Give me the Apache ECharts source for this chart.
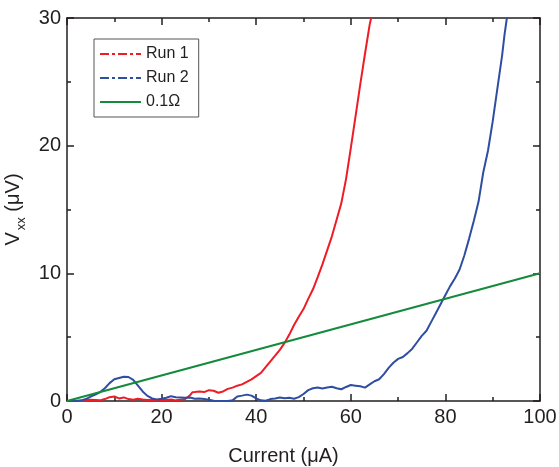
<!DOCTYPE html>
<html>
<head>
<meta charset="utf-8">
<script src="https://cdn.jsdelivr.net/npm/echarts@6/dist/echarts.min.js"></script>
<style>
    html, body { margin: 0; padding: 0; background: #fff; }
    #chart { width: 559px; height: 467px; }
</style>
</head>
<body>
<div id="chart"></div>
<script>
    // Run 1 (red)
    const run1Current = [0, 1, 2, 3, 4, 5, 6, 7, 8, 9, 10, 11, 12, 13, 14, 15, 16, 17, 18, 19,
        20, 21, 22, 23, 24, 25, 26, 26.5, 27, 28, 29, 30, 31, 32, 33, 34, 35, 36, 37, 38, 39,
        40, 41, 42, 43, 44, 45, 46, 47, 48, 49, 50, 51, 52, 53, 54, 55, 56, 57, 58, 59,
        60, 61, 62, 63, 64, 64.3]
    const run1Voltage = [0, 0, 0.02, 0, 0.05, 0.1, 0.08, 0.05, 0.15, 0.3, 0.35, 0.2, 0.28, 0.15, 0.1, 0.18, 0.12, 0.08, 0.1, 0.05,
        0.1, 0.08, 0.12, 0.05, 0.1, 0.15, 0.45, 0.68, 0.7, 0.75, 0.7, 0.85, 0.8, 0.65, 0.75, 0.95, 1.05, 1.2, 1.3, 1.5, 1.7,
        1.95, 2.2, 2.65, 3.1, 3.55, 4.0, 4.55, 5.2, 5.95, 6.6, 7.2, 8.0, 8.75, 9.7, 10.7, 11.8, 12.9, 14.2, 15.5, 17.4,
        19.8, 22.3, 24.8, 27.2, 29.5, 30]

    // Run 2 (blue)
    const run2Current = [0, 1, 2, 3, 4, 5, 6, 7, 8, 9, 10, 11, 12, 13, 14, 15, 16, 17, 18, 19,
        20, 21, 22, 23, 24, 25, 26, 27, 28, 29, 30, 31, 32, 33, 34, 35, 36, 37, 38, 39,
        40, 41, 42, 43, 44, 45, 46, 47, 48, 49, 50, 51, 52, 53, 54, 55, 56, 57, 58, 59,
        60, 61, 62, 63, 64, 65, 66, 67, 68, 69, 70, 71, 72, 73, 74, 75, 76, 77, 78, 79,
        80, 81, 82, 83, 84, 85, 86, 87, 88, 89, 90, 91, 92, 92.5, 93]
    const run2Voltage = [0, 0, 0, 0.05, 0.15, 0.35, 0.5, 0.7, 1.0, 1.4, 1.7, 1.8, 1.9, 1.88, 1.65, 1.2, 0.75, 0.4, 0.2, 0.12,
        0.18, 0.25, 0.38, 0.3, 0.28, 0.25, 0.28, 0.18, 0.2, 0.15, 0.1, 0.02, 0, 0, 0, 0.05, 0.35, 0.42, 0.5, 0.42,
        0.2, 0.05, 0.02, 0.15, 0.2, 0.28, 0.22, 0.25, 0.18, 0.3, 0.55, 0.85, 1.0, 1.05, 0.98, 1.05, 1.12, 1.0, 0.92, 1.1,
        1.25, 1.2, 1.15, 1.05, 1.3, 1.55, 1.7, 2.1, 2.6, 3.0, 3.3, 3.45, 3.75, 4.1, 4.6, 5.1, 5.5, 6.2, 6.9, 7.6,
        8.3, 9.0, 9.6, 10.3, 11.4, 12.7, 14.1, 15.6, 17.9, 19.6, 21.9, 24.5, 27.1, 28.7, 30]

    // 0.1 ohm reference line
    const ohmCurrent = [0, 100]
    const ohmVoltage = [0, 10]

    const seriesNames = ['Run 1', 'Run 2', '0.1\u03A9']
    const xTicks = { min: 0, max: 100, interval: 20 }
    const yTicks = { min: 0, max: 30, interval: 10 }

    const pairs = (xs, ys) => xs.map((x, i) => [x, ys[i]])
    const ink = '#231f20'
    const font = 'Liberation Sans, Arial, sans-serif'

    const boxAxis = (extra) => Object.assign({
        type: 'value',
        axisLine: { show: true, onZero: false, lineStyle: { color: ink, width: 1.5 } },
        axisTick: { show: true, inside: true, length: 7, lineStyle: { color: ink, width: 1.5 } },
        minorTick: { show: true, splitNumber: 2, length: 4, lineStyle: { color: ink, width: 1.5 } },
        splitLine: { show: false },
        axisLabel: { show: false }
    }, extra)

    const noSymbol = { opacity: 0 }

    const myChart = echarts.init(document.getElementById('chart'))
    myChart.setOption({
        animation: false,
        grid: { left: 67, right: 19, top: 18, bottom: 66, outerBoundsMode: 'none', containLabel: false },
        legend: {
            orient: 'vertical',
            left: 94,
            top: 39,
            padding: [7, 10, 7, 5],
            itemWidth: 41,
            itemHeight: 14,
            itemGap: 8,
            borderColor: '#555',
            borderWidth: 1,
            borderRadius: 0,
            textStyle: { fontFamily: font, fontSize: 16, color: ink },
            data: [
                { name: seriesNames[0], itemStyle: noSymbol, lineStyle: { type: [9, 3, 3, 3], width: 2, opacity: 1 } },
                { name: seriesNames[1], itemStyle: noSymbol, lineStyle: { type: [9, 3, 3, 3], width: 2, opacity: 1 } },
                { name: seriesNames[2], itemStyle: noSymbol, lineStyle: { width: 2, opacity: 1 } }
            ]
        },
        xAxis: [
            boxAxis({
                min: xTicks.min, max: xTicks.max, interval: xTicks.interval,
                position: 'bottom',
                axisLabel: { show: true, margin: 6, fontFamily: font, fontSize: 20, color: ink },
                name: 'Current (\u03BCA)',
                nameLocation: 'middle',
                nameGap: 45,
                nameTextStyle: { fontFamily: font, fontSize: 20, color: ink, padding: [0, 40, 0, 0] }
            }),
            boxAxis({ min: xTicks.min, max: xTicks.max, interval: xTicks.interval, position: 'top' })
        ],
        yAxis: [
            boxAxis({
                min: yTicks.min, max: yTicks.max, interval: yTicks.interval,
                position: 'left',
                axisLabel: { show: true, margin: 6, fontFamily: font, fontSize: 20, color: ink },
                name: '{v|V}{s|xx}{v| (\u03BCV)}',
                nameLocation: 'middle',
                nameRotate: 90,
                nameGap: 31,
                nameTextStyle: {
                    rich: {
                        v: { fontFamily: font, fontSize: 20, color: ink, lineHeight: 24, verticalAlign: 'top' },
                        s: { fontFamily: font, fontSize: 13, color: ink, lineHeight: 10, verticalAlign: 'bottom', padding: [19, 0, 0, 2] }
                    }
                }
            }),
            boxAxis({ min: yTicks.min, max: yTicks.max, interval: yTicks.interval, position: 'right' })
        ],
        series: [
            {
                name: seriesNames[0], type: 'line', data: pairs(run1Current, run1Voltage),
                symbol: 'none', clip: true,
                itemStyle: { color: '#ee1c25' },
                lineStyle: { color: '#ee1c25', width: 2 }
            },
            {
                name: seriesNames[1], type: 'line', data: pairs(run2Current, run2Voltage),
                symbol: 'none', clip: true,
                itemStyle: { color: '#2f4ea2' },
                lineStyle: { color: '#2f4ea2', width: 2 }
            },
            {
                name: seriesNames[2], type: 'line', data: pairs(ohmCurrent, ohmVoltage),
                symbol: 'none', clip: true,
                itemStyle: { color: '#138a3c' },
                lineStyle: { color: '#138a3c', width: 2 }
            }
        ]
    })
</script>
</body>
</html>
